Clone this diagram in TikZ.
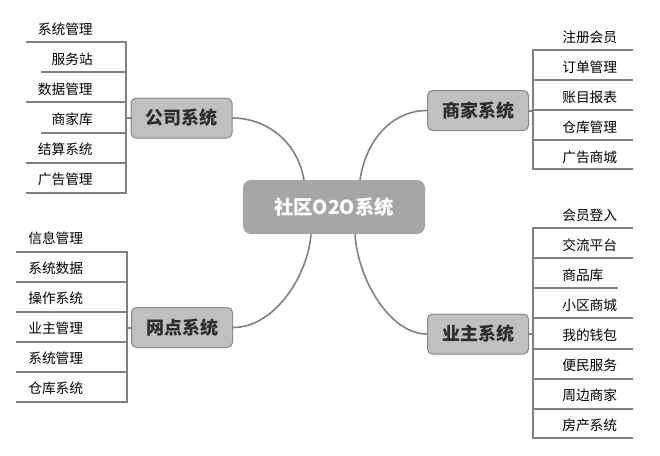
\documentclass[tikz,border=0pt]{standalone}
\usepackage{fontspec}
\setmainfont{Noto Sans CJK SC}
\usetikzlibrary{calc}
\definecolor{linegray}{RGB}{128,128,128}
\definecolor{subfill}{RGB}{192,192,192}
\definecolor{subborder}{RGB}{140,136,130}
\definecolor{subtext}{RGB}{45,45,45}
\definecolor{rootfill}{RGB}{166,166,166}
\begin{document}
\begin{tikzpicture}[x=0.75pt,y=-0.75pt,
  item/.style={inner sep=0pt, font=\fontsize{10.3}{12}\selectfont, text=black},
  sub/.style={draw=subborder, fill=subfill, rounded corners=3.75pt, minimum width=75.75pt, minimum height=30pt, inner sep=0pt, font=\fontsize{13.5}{16}\selectfont\bfseries, text=subtext, line width=0.75pt},
  root/.style={fill=rootfill, rounded corners=6pt, minimum width=136.5pt, minimum height=40.5pt, inner sep=0pt, font=\fontsize{14.5}{17}\selectfont\bfseries, text=white},
  branch/.style={draw=linegray, line width=1.2pt},
  tree/.style={draw=linegray, line width=1.5pt, line cap=rect}]
\useasboundingbox (0,0) rectangle (660,455);

% root and main branches
\node[root] (root) at (334,207) {社区O2O系统};
\node[sub] (gs) at (181.5,118) {公司系统};
\node[sub] (sj) at (478,110.5) {商家系统};
\node[sub] (wd) at (182,327.5) {网点系统};
\node[sub] (yz) at (478,334) {业主系统};

\draw[branch] (gs.east) .. controls (265,118) and (297,140) .. ([xshift=-22.5pt]root.north);
\draw[branch] (sj.west) .. controls (392,110.5) and (366,140) .. ([xshift=19.5pt]root.north);
\draw[branch] (wd.east) .. controls (275,327.5) and (308,275) .. ([xshift=-17.25pt]root.south);
\draw[branch] (yz.west) .. controls (390,334) and (358,280) .. ([xshift=15.75pt]root.south);

% 公司系统 items
\coordinate (gsbus) at (126,118);
\draw[tree] (gs.west) -- (gsbus);
\draw[tree] (126,42) -- (126,193);
\foreach \t/\y/\lx/\ly [count=\i] in {系统管理/29/27/42, 服务站/59/42/72, 数据管理/89/27/102, 商家库/119/42/133, 结算系统/149/27/163, 广告管理/179/27/193}{
  \node[item, anchor=east] (gs\i) at (93,\y) {\t};
  \draw[tree] (\lx,\ly) -- (126,\ly);
}

% 网点系统 items
\coordinate (wdbus) at (127,327.5);
\draw[tree] (wd.west) -- (wdbus);
\draw[tree] (127,252) -- (127,402);
\foreach \t/\y/\ly [count=\i] in {信息管理/238/252, 系统数据/268/282, 操作系统/298/312, 业主管理/328/342, 系统管理/358/372, 仓库系统/388/402}{
  \node[item, anchor=west] (wd\i) at (28,\y) {\t};
  \draw[tree] (17,\ly) -- (127,\ly);
}

% 商家系统 items
\coordinate (sjbus) at (533,110.5);
\draw[tree] (sj.east) -- (sjbus);
\draw[tree] (533,50) -- (533,169);
\foreach \t/\y/\ly [count=\i] in {注册会员/37/50, 订单管理/67/80, 账目报表/97/110, 仓库管理/127/140, 广告商城/157/169}{
  \node[item, anchor=west] (sj\i) at (562,\y) {\t};
  \draw[tree] (533,\ly) -- (632,\ly);
}

% 业主系统 items
\coordinate (yzbus) at (533,334);
\draw[tree] (yz.east) -- (yzbus);
\draw[tree] (533,228) -- (533,438);
\foreach \t/\y/\ly/\rx [count=\i] in {会员登入/215/228/632, 交流平台/245/258/632, 商品库/275/288/617, 小区商城/305/318/632, 我的钱包/335/349/632, 便民服务/365/379/632, 周边商家/395/409/632, 房产系统/425/438/632}{
  \node[item, anchor=west] (yz\i) at (562,\y) {\t};
  \draw[tree] (533,\ly) -- (\rx,\ly);
}
\end{tikzpicture}
\end{document}
